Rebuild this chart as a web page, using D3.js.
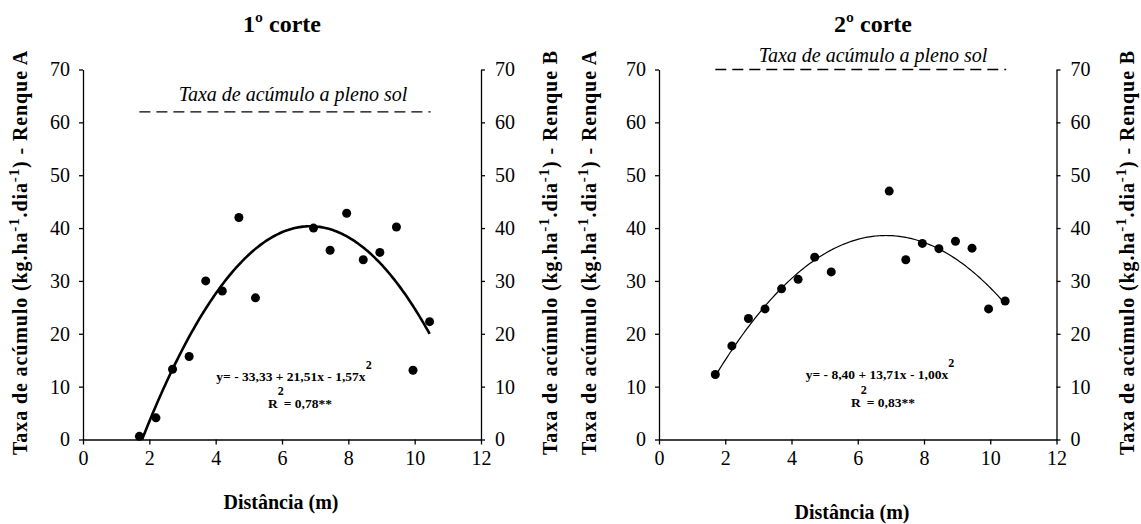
<!DOCTYPE html>
<html>
<head>
<meta charset="utf-8">
<script src="https://cdn.jsdelivr.net/npm/d3@7"></script>
</head>
<body style="margin:0; background:#fff">
<svg id="chart" width="1141" height="524"></svg>
<script>
// dados
const distancia = [1.7, 2.2, 2.7, 3.2, 3.7, 4.2, 4.7, 5.2, 6.95, 7.45, 7.95, 8.45, 8.95, 9.45, 9.95, 10.45];
const corte1 = [0.6, 4.1, 13.3, 15.7, 30.0, 28.1, 42.0, 26.8, 40.0, 35.8, 42.8, 34.0, 35.4, 40.2, 13.1, 22.3];
const corte2 = [12.3, 17.7, 22.9, 24.7, 28.5, 30.3, 34.5, 31.7, 47.0, 34.0, 37.1, 36.1, 37.5, 36.2, 24.7, 26.2];
const xTicks = [0, 2, 4, 6, 8, 10, 12];
const yTicks = [0, 10, 20, 30, 40, 50, 60, 70];
// coeficientes das equacoes (a + bx + cx^2)
const coef1 = [-33.33, 21.51, -1.57];
const coef2 = [-8.40, 13.71, -1.00];
const plenoSol = [62, 70];
const titulos = ["1º corte", "2º corte"];
const equacoes = ["y= - 33,33 + 21,51x - 1,57x", "y= - 8,40 + 13,71x - 1,00x"];
const r2 = ["= 0,78**", "= 0,83**"];

const fonte = "'Liberation Serif'";
const svg = d3.select("#chart");
svg.append("rect").attr("width", 1141).attr("height", 524).attr("fill", "#fff");

const paineis = [
  {left: 83, right: 481, titleX: 282, xLabX: 281, xLabY: 509, yLabL: 27, yLabR: 557,
   eqX: 294, eqY: 381, r2X: 300, r2Y: 408, solX: 293, solY: 101, curveW: 2.6},
  {left: 659, right: 1056.5, titleX: 873, xLabX: 852, xLabY: 519, yLabL: 596, yLabR: 1134,
   eqX: 880, eqY: 379, r2X: 883, r2Y: 407, solX: 873, solY: 61.5, curveW: 1.2}
];
const plotTop = 69.5, plotBottom = 439.5;

function yTitle(g, x, letra) {
  const t = g.append("text")
    .attr("transform", "translate(" + x + ",252.5) rotate(-90)")
    .attr("text-anchor", "middle")
    .attr("font-family", fonte)
    .attr("font-weight", "bold")
    .attr("font-size", 20);
  t.append("tspan").text("Taxa de acúmulo (kg.ha");
  t.append("tspan").attr("dy", -8).attr("font-size", 15).text("-1");
  t.append("tspan").attr("dy", 8).text(".dia");
  t.append("tspan").attr("dy", -8).attr("font-size", 15).text("-1");
  t.append("tspan").attr("dy", 8).text(") - Renque " + letra);
  // espaçamento para ocupar a mesma altura do original
  const w = t.node().getComputedTextLength();
  const n = t.text().length;
  t.attr("letter-spacing", ((405 - w) / n).toFixed(2));
}

function desenha(i, valores, coef) {
  const p = paineis[i];
  const g = svg.append("g");

  const x = d3.scaleLinear().domain([0, 12]).range([p.left, p.right]);
  const y = d3.scaleLinear().domain([0, 70]).range([plotBottom, plotTop]);

  const ax = [
    g.append("g")
      .attr("transform", "translate(0," + plotBottom + ")")
      .call(d3.axisBottom(x).tickValues(xTicks).tickSize(5).tickSizeOuter(0).tickPadding(6)),
    g.append("g")
      .attr("transform", "translate(" + p.left + ",0)")
      .call(d3.axisLeft(y).tickValues(yTicks).tickSize(4).tickSizeOuter(0).tickPadding(9)),
    g.append("g")
      .attr("transform", "translate(" + p.right + ",0)")
      .call(d3.axisRight(y).tickValues(yTicks).tickSize(4).tickSizeOuter(0).tickPadding(10))
  ];
  ax.forEach(a => {
    a.attr("font-family", fonte).attr("font-size", 20);
    a.selectAll("text").attr("font-family", fonte).attr("font-size", 20).attr("fill", "#000");
    a.selectAll("path, line").attr("stroke", "#000").attr("stroke-width", 1.3);
  });

  // linha pleno sol
  g.append("line")
    .attr("x1", x(1.7)).attr("x2", x(10.48))
    .attr("y1", y(plenoSol[i])).attr("y2", y(plenoSol[i]))
    .attr("stroke", "#000").attr("stroke-width", 1.3)
    .attr("stroke-dasharray", "11,6");
  g.append("text")
    .attr("x", p.solX).attr("y", p.solY)
    .attr("text-anchor", "middle")
    .attr("font-family", fonte)
    .attr("font-style", "italic")
    .attr("font-size", 20)
    .text("Taxa de acúmulo a pleno sol");

  // curva ajustada
  const f = v => coef[0] + coef[1] * v + coef[2] * v * v;
  let inicio = d3.min(distancia);
  if (f(inicio) < 0) {
    inicio = (-coef[1] + Math.sqrt(coef[1] * coef[1] - 4 * coef[2] * coef[0])) / (2 * coef[2]);
  }
  const fim = d3.max(distancia);
  const xs = d3.range(inicio, fim, 0.05).concat([fim]);
  g.append("path")
    .datum(xs)
    .attr("fill", "none")
    .attr("stroke", "#000")
    .attr("stroke-width", p.curveW)
    .attr("d", d3.line().x(d => x(d)).y(d => y(f(d))));

  g.selectAll(".ponto")
    .data(distancia)
    .enter().append("circle")
    .attr("cx", d => x(d))
    .attr("cy", (d, j) => y(valores[j]))
    .attr("r", 4.5)
    .attr("fill", "#000");

  // equacao
  const eq = g.append("text")
    .attr("x", p.eqX).attr("y", p.eqY)
    .attr("text-anchor", "middle")
    .attr("font-family", fonte)
    .attr("font-weight", "bold")
    .attr("font-size", 13.5);
  eq.append("tspan").text(equacoes[i]);
  eq.append("tspan").attr("dy", -12).attr("font-size", 12).text("2");

  const rr = g.append("text")
    .attr("x", p.r2X).attr("y", p.r2Y)
    .attr("text-anchor", "middle")
    .attr("font-family", fonte)
    .attr("font-weight", "bold")
    .attr("font-size", 13.5);
  rr.append("tspan").text("R");
  rr.append("tspan").attr("dy", -13).attr("font-size", 12).text("2");
  rr.append("tspan").attr("dy", 13).text(r2[i]);

  // titulos
  g.append("text")
    .attr("x", p.titleX).attr("y", 32)
    .attr("text-anchor", "middle")
    .attr("font-family", fonte)
    .attr("font-weight", "bold")
    .attr("font-size", 24)
    .text(titulos[i]);
  g.append("text")
    .attr("x", p.xLabX).attr("y", p.xLabY)
    .attr("text-anchor", "middle")
    .attr("font-family", fonte)
    .attr("font-weight", "bold")
    .attr("font-size", 20)
    .text("Distância (m)");
  yTitle(g, p.yLabL, "A");
  yTitle(g, p.yLabR, "B");
}

desenha(0, corte1, coef1);
desenha(1, corte2, coef2);
</script>
</body>
</html>
